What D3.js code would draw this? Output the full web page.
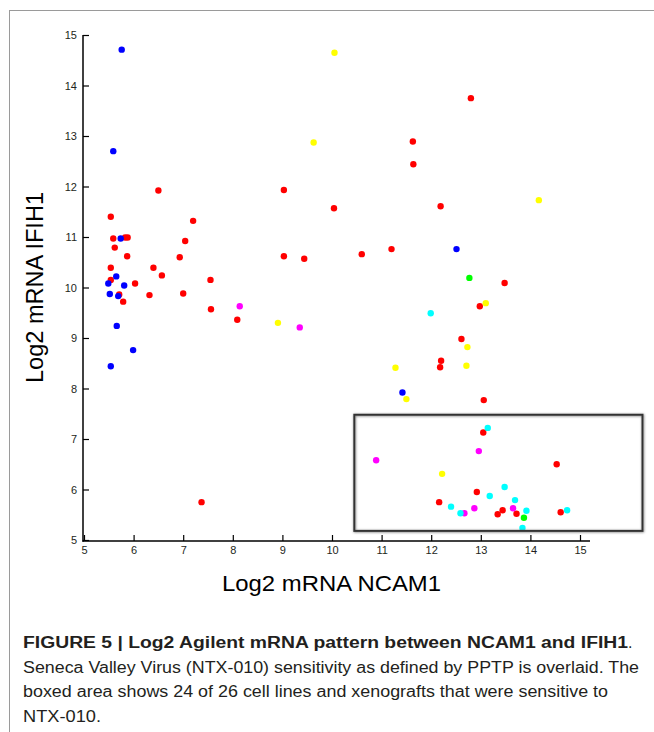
<!DOCTYPE html>
<html>
<meta charset="utf-8">
<head>
<title>NCAM1 vs IFIH1</title>
<script src="https://cdnjs.cloudflare.com/ajax/libs/d3/7.8.5/d3.min.js"></script>
<style>
    body { margin: 0; background: #fff; }
    .tick text {
      font-family: "Liberation Sans", sans-serif;
      font-size: 11px;
      fill: #231f20;
    }
    .tick line { stroke: #000; stroke-width: 1.2; }
</style>
</head>

<body>
<script>

const width = 654,
    height = 732;

// [log2 NCAM1, log2 IFIH1] per cell line / xenograft, one array per colour class
const redPoints = [
    [6.50, 11.92], [5.54, 11.40], [7.20, 11.32], [5.59, 10.97], [5.83, 10.99], [5.88, 10.99],
    [7.04, 10.92], [5.62, 10.79], [5.87, 10.62], [6.93, 10.60], [5.54, 10.39], [6.40, 10.39],
    [6.57, 10.24], [5.54, 10.15], [7.55, 10.15], [6.03, 10.08], [5.71, 9.86], [6.32, 9.85],
    [7.00, 9.88], [5.79, 9.72], [7.56, 9.57], [8.09, 9.36], [7.37, 5.75], [9.03, 11.93],
    [10.04, 11.57], [9.03, 10.62], [9.44, 10.57], [10.60, 10.66], [11.20, 10.76], [11.63, 12.89],
    [11.64, 12.44], [12.80, 13.75], [12.19, 11.61], [13.48, 10.09], [12.98, 9.63], [12.61, 8.98],
    [12.20, 8.55], [12.18, 8.42], [13.06, 7.77], [13.05, 7.13], [14.53, 6.50], [12.92, 5.95],
    [12.16, 5.75], [13.44, 5.59], [13.34, 5.51], [13.72, 5.52], [14.61, 5.55]
];
const bluePoints = [
    [5.76, 14.71], [5.59, 12.70], [5.74, 10.97], [5.65, 10.22], [5.49, 10.08], [5.81, 10.04],
    [5.52, 9.87], [5.69, 9.83], [5.66, 9.24], [5.99, 8.76], [5.54, 8.44], [12.51, 10.76],
    [11.42, 7.92]
];
const yellowPoints = [
    [10.05, 14.65], [9.63, 12.87], [14.17, 11.73], [13.10, 9.69], [12.73, 8.82], [12.71, 8.45],
    [11.28, 8.41], [11.50, 7.79], [8.91, 9.30], [12.22, 6.31]
];
const magentaPoints = [
    [8.14, 9.63], [9.35, 9.21], [10.89, 6.58], [12.96, 6.76], [12.67, 5.53], [12.87, 5.63],
    [13.65, 5.63]
];
const cyanPoints = [
    [11.99, 9.49], [13.14, 7.22], [13.48, 6.05], [13.18, 5.87], [12.40, 5.66], [13.69, 5.79],
    [12.59, 5.53], [13.92, 5.58], [13.84, 5.24], [14.74, 5.59]
];
const greenPoints = [
    [12.77, 10.19], [13.87, 5.44]
];

const tickValues = [5, 6, 7, 8, 9, 10, 11, 12, 13, 14, 15];

// boxed region of sensitive lines (data units)
const boxNcam1 = [10.45, 16.26];
const boxIfih1 = [5.18, 7.48];

const captionLines = [
    "Seneca Valley Virus (NTX-010) sensitivity as defined by PPTP is overlaid. The",
    "boxed area shows 24 of 26 cell lines and xenografts that were sensitive to",
    "NTX-010."
];

const series = [
    { colour: "#ff0000", points: redPoints },
    { colour: "#0000ff", points: bluePoints },
    { colour: "#ffff00", points: yellowPoints },
    { colour: "#ff00ff", points: magentaPoints },
    { colour: "#00ffff", points: cyanPoints },
    { colour: "#00ff00", points: greenPoints }
];

const svg = d3.select("body")
    .append("svg")
    .attr("width", width)
    .attr("height", height);

const defs = svg.append("defs");
defs.append("filter")
    .attr("id", "soft")
    .attr("x", "-50%").attr("y", "-50%")
    .attr("width", "200%").attr("height", "200%")
    .append("feGaussianBlur")
    .attr("stdDeviation", 0.5);
defs.append("filter")
    .attr("id", "shadow")
    .attr("x", "-5%").attr("y", "-10%")
    .attr("width", "110%").attr("height", "120%")
    .append("feDropShadow")
    .attr("dx", 0.5).attr("dy", 0.5)
    .attr("stdDeviation", 1.2)
    .attr("flood-color", "#777");

// page frame
svg.append("line")
    .attr("x1", 9.5).attr("x2", 9.5)
    .attr("y1", 10).attr("y2", height)
    .attr("stroke", "#9a9a9a");
svg.append("line")
    .attr("x1", 9).attr("x2", width)
    .attr("y1", 10.5).attr("y2", 10.5)
    .attr("stroke", "#9a9a9a");

const x = d3.scaleLinear().domain([5, 15]).range([84, 580]);
const y = d3.scaleLinear().domain([5, 15]).range([540, 35]);

// axes, ticks pointing inwards
svg.append("g")
    .attr("transform", "translate(0,541)")
    .call(d3.axisBottom(x).tickValues(tickValues).tickSize(-6).tickPadding(5))
    .call(g => g.select(".domain").remove());
svg.append("g")
    .attr("transform", "translate(83,0)")
    .call(d3.axisLeft(y).tickValues(tickValues).tickSize(-6).tickPadding(6))
    .call(g => g.select(".domain").remove());
svg.selectAll(".tick text").attr("font-family", null).attr("font-size", null);

svg.append("line")
    .attr("x1", 82.5).attr("x2", 590)
    .attr("y1", 541).attr("y2", 541)
    .attr("stroke", "#000").attr("stroke-width", 1.5);
svg.append("line")
    .attr("x1", 83).attr("x2", 83)
    .attr("y1", y(15)).attr("y2", 541.7)
    .attr("stroke", "#000").attr("stroke-width", 1.5);

// points
for (const s of series) {
    svg.append("g")
        .attr("filter", "url(#soft)")
        .selectAll("circle")
        .data(s.points)
        .enter()
        .append("circle")
        .attr("cx", d => x(d[0]))
        .attr("cy", d => y(d[1]))
        .attr("r", 3.2)
        .attr("fill", s.colour);
}

// the boxed area
svg.append("rect")
    .attr("x", x(boxNcam1[0]))
    .attr("y", y(boxIfih1[1]))
    .attr("width", x(boxNcam1[1]) - x(boxNcam1[0]))
    .attr("height", y(boxIfih1[0]) - y(boxIfih1[1]))
    .attr("fill", "none")
    .attr("stroke", "#333")
    .attr("stroke-width", 2)
    .attr("filter", "url(#shadow)");

// axis titles
svg.append("text")
    .attr("transform", "translate(43,287.5) rotate(-90)")
    .attr("text-anchor", "middle")
    .attr("font-family", "Liberation Sans, sans-serif")
    .attr("font-size", "23px")
    .attr("textLength", 191)
    .attr("lengthAdjust", "spacingAndGlyphs")
    .text("Log2 mRNA IFIH1");
svg.append("text")
    .attr("x", 331.5)
    .attr("y", 591)
    .attr("text-anchor", "middle")
    .attr("font-family", "Liberation Sans, sans-serif")
    .attr("font-size", "22px")
    .attr("textLength", 219)
    .attr("lengthAdjust", "spacingAndGlyphs")
    .text("Log2 mRNA NCAM1");

// caption
svg.append("text")
    .attr("x", 23)
    .attr("y", 647.5)
    .attr("font-family", "Liberation Sans, sans-serif")
    .attr("font-size", "16px")
    .attr("font-weight", "bold")
    .attr("fill", "#231f20")
    .attr("textLength", 605)
    .attr("lengthAdjust", "spacingAndGlyphs")
    .text("FIGURE 5 | Log2 Agilent mRNA pattern between NCAM1 and IFIH1");
svg.append("text")
    .attr("x", 628)
    .attr("y", 647.5)
    .attr("font-family", "Liberation Sans, sans-serif")
    .attr("font-size", "16px")
    .attr("fill", "#231f20")
    .text(".");

const captionWidths = [616, 585, 78];
svg.selectAll("text.caption")
    .data(captionLines)
    .enter()
    .append("text")
    .attr("class", "caption")
    .attr("x", 23)
    .attr("y", (d, i) => 672.5 + i * 24.8)
    .attr("font-family", "Liberation Sans, sans-serif")
    .attr("font-size", "16px")
    .attr("fill", "#231f20")
    .attr("textLength", (d, i) => captionWidths[i])
    .attr("lengthAdjust", "spacingAndGlyphs")
    .text(d => d);

</script>

</body>
</html>
